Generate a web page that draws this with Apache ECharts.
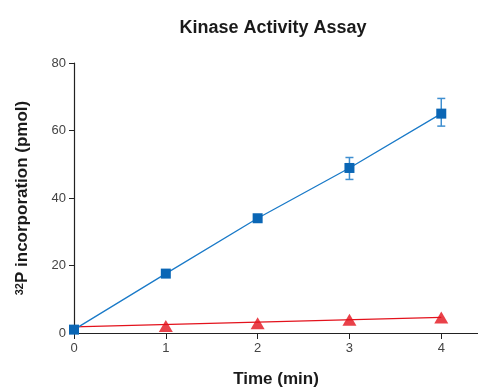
<!DOCTYPE html>
<html>
<head>
<meta charset="utf-8">
<script src="https://cdn.jsdelivr.net/npm/echarts@6/dist/echarts.min.js"></script>
<style>html,body{margin:0;padding:0;background:#fff}#c{width:478px;height:390px}</style>
</head>
<body>
<div id="c"></div>
<script>
const times = [0, 1, 2, 3, 4];
const kinaseValues = [1.0, 17.6, 34.0, 48.9, 65.0];
const controlTimes = [1, 2, 3, 4];
const controlValues = [2.1, 2.9, 3.9, 4.6];
const controlLine = [[0, 1.8], [4, 4.6]];
const errTimes = [3, 4];
const errLow = [45.5, 61.3];
const errHigh = [52.0, 69.5];
const xTicks = [0, 1, 2, 3, 4];

const chart = echarts.init(document.getElementById('c'));
const font = 'Liberation Sans';
chart.setOption({
  animation: false,
  title: {
    text: 'Kinase Activity Assay', left: 268, top: 14, textAlign: 'center',
    textStyle: { fontFamily: font, fontSize: 18, fontWeight: 'bold', color: '#1a1a1a' }
  },
  grid: { left: 74, right: 0, top: 63, bottom: 57, containLabel: false, outerBoundsMode: 'none' },
  xAxis: {
    type: 'value', min: 0, max: 4.4,
    name: 'Time (min)', nameLocation: 'middle', nameGap: 38,
    nameTextStyle: { fontFamily: font, fontSize: 17, fontWeight: 'bold', color: '#1a1a1a' },
    axisLine: { lineStyle: { color: '#222', width: 1.2 } },
    axisTick: { show: true, length: 6, customValues: xTicks, lineStyle: { color: '#222' } },
    axisLabel: { customValues: xTicks, fontFamily: font, fontSize: 13, color: '#444', margin: 9 },
    splitLine: { show: false }
  },
  yAxis: {
    type: 'value', min: 0, max: 80, interval: 20,
    name: '{sup|32}P incorporation (pmol)', nameLocation: 'middle', nameGap: 43,
    nameTextStyle: {
      fontFamily: font, fontSize: 17, fontWeight: 'bold', color: '#1a1a1a',
      rich: { sup: { fontFamily: font, fontSize: 11, fontWeight: 'bold', color: '#1a1a1a', verticalAlign: 'top', lineHeight: 11 } }
    },
    axisLine: { show: true, lineStyle: { color: '#222', width: 1.2 } },
    axisTick: { show: true, length: 5, lineStyle: { color: '#222' } },
    axisLabel: { fontFamily: font, fontSize: 13, color: '#444', margin: 8 },
    splitLine: { show: false }
  },
  series: [
    {
      type: 'line', data: controlLine, symbol: 'none', z: 2,
      lineStyle: { color: '#e3121c', width: 1.3 }
    },
    {
      type: 'scatter', data: controlTimes.map((t, i) => [t, controlValues[i]]),
      symbol: 'triangle', symbolSize: [14, 12], z: 5,
      itemStyle: { color: '#e3121c' }
    },
    {
      type: 'line', data: times.map((t, i) => [t, kinaseValues[i]]),
      symbol: 'rect', symbolSize: 10, z: 4,
      lineStyle: { color: '#1a7ac8', width: 1.3 },
      itemStyle: { color: '#0a66b5' }
    },
    {
      type: 'custom', z: 3,
      data: errTimes.map((t, i) => [t, errLow[i], errHigh[i]]),
      renderItem: function (params, api) {
        const lo = api.coord([api.value(0), api.value(1)]);
        const hi = api.coord([api.value(0), api.value(2)]);
        const w = 4;
        const st = { stroke: '#3f8fd0', lineWidth: 1.5 };
        return {
          type: 'group', children: [
            { type: 'line', shape: { x1: lo[0], y1: lo[1], x2: hi[0], y2: hi[1] }, style: st },
            { type: 'line', shape: { x1: lo[0] - w, y1: lo[1], x2: lo[0] + w, y2: lo[1] }, style: st },
            { type: 'line', shape: { x1: hi[0] - w, y1: hi[1], x2: hi[0] + w, y2: hi[1] }, style: st }
          ]
        };
      }
    }
  ]
});
</script>
</body>
</html>
